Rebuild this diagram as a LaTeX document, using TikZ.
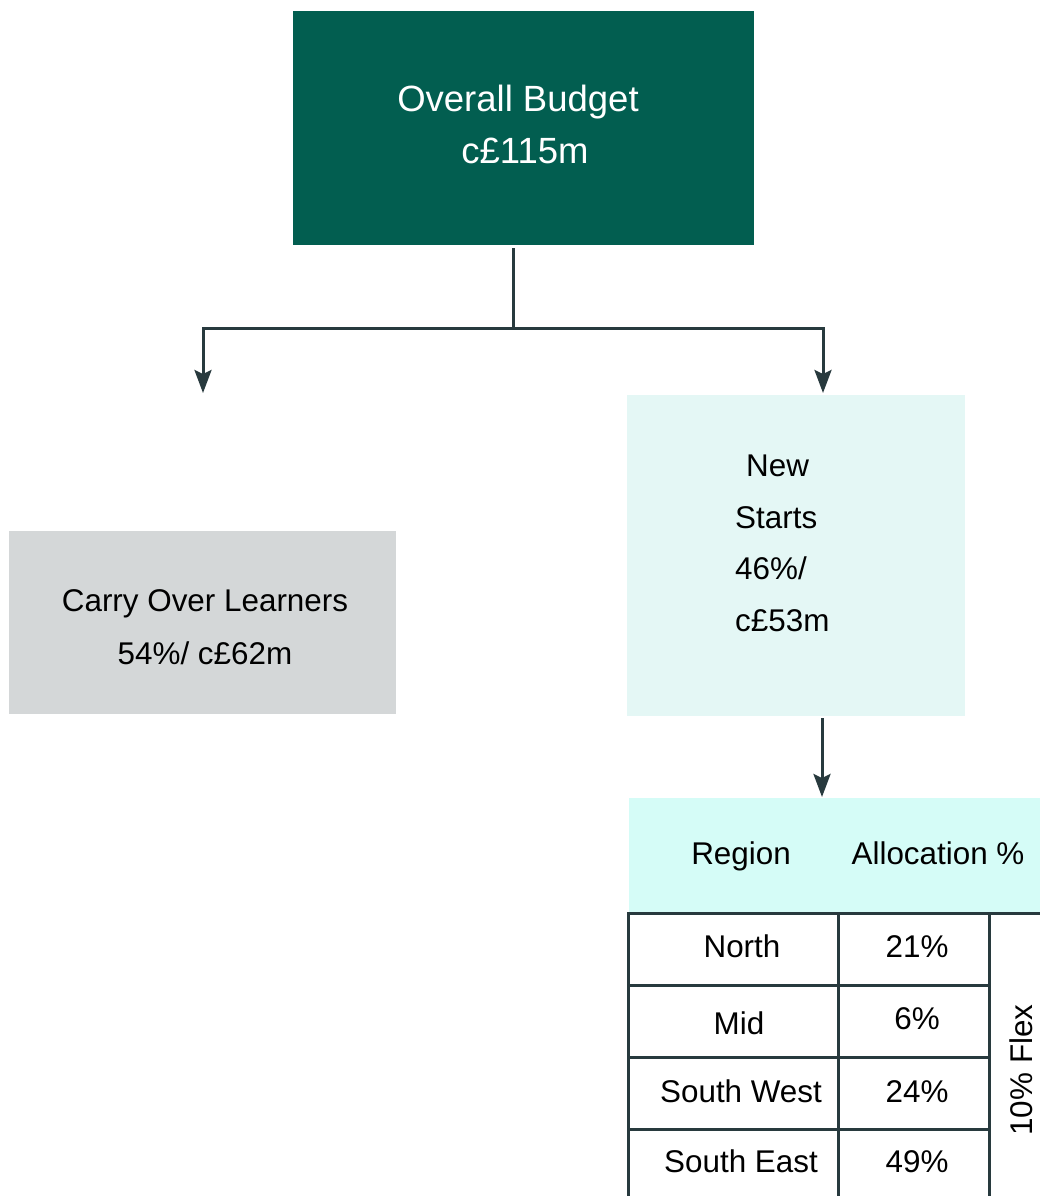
\documentclass[tikz,border=0pt]{standalone}
\usepackage{fontspec}
\setmainfont{Liberation Sans}
\usetikzlibrary{arrows.meta}
\definecolor{budgetgreen}{RGB}{2,94,80}
\definecolor{newfill}{RGB}{228,247,245}
\definecolor{carryfill}{RGB}{212,215,216}
\definecolor{headfill}{RGB}{213,252,247}
\definecolor{linecol}{RGB}{40,58,62}
\tikzset{
  box/.style={rectangle, inner sep=0pt, draw=none},
  txt/.style={inner sep=0pt, font=\fontsize{31.4}{36}\selectfont, text=black},
  bigtxt/.style={inner sep=0pt, font=\fontsize{36.5}{42}\selectfont, text=white},
  conn/.style={draw=linecol, line width=3pt},
  arr/.style={conn, -{Stealth[length=23pt,width=17pt,inset=4pt]}},
  grid/.style={draw=linecol, line width=3pt, line cap=rect},
}
\begin{document}
\begin{tikzpicture}[x=1pt,y=-1pt]
\useasboundingbox (0,0) rectangle (1040,1196);
% boxes
\node[box, fill=budgetgreen, minimum width=461pt, minimum height=234pt] (budget) at (523.5,128) {};
\node[bigtxt, anchor=base] (b1) at (518,112) {Overall Budget};
\node[bigtxt, anchor=base] (b2) at (525,163) {c£115m};

\node[box, fill=carryfill, minimum width=387pt, minimum height=183pt] (carry) at (202.5,622.5) {};
\node[txt, anchor=base] (c1) at (205,611) {Carry Over Learners};
\node[txt, anchor=base] (c2) at (205,664) {54\%/ c£62m};

\node[box, fill=newfill, minimum width=338pt, minimum height=321pt] (new) at (796,555.5) {};
\node[txt, anchor=base west] (n1) at (746,476) {New};
\node[txt, anchor=base west] (n2) at (735,528) {Starts};
\node[txt, anchor=base west] (n3) at (735,579) {46\%/};
\node[txt, anchor=base west] (n4) at (735,631) {c£53m};

% connectors
\coordinate (j) at (513,328);
\coordinate (lefttip) at (203,393);
\coordinate (righttip) at (823,393);
\coordinate (tabtip) at (822,797);
\draw[conn, shorten <=3pt] (budget.south -| j) -- (j);
\draw[arr] (j) -| (lefttip);
\draw[arr] (j) -| (righttip);
\draw[arr, shorten <=2pt] (new.south -| tabtip) -- (tabtip);

% table header
\node[box, fill=headfill, minimum width=411pt, minimum height=114pt] (head) at (834.5,855) {};
\node[txt, anchor=base] (h1) at (741,864) {Region};
\node[txt, anchor=base] (h2) at (938,864) {Allocation \%};

% table grid
\draw[grid] (628,913) -- (1040,913);
\draw[grid] (628,913) -- (628,1200);
\draw[grid] (838.5,913) -- (838.5,1200);
\draw[grid] (989,913) -- (989,1200);
\draw[grid] (628,985.5) -- (989,985.5);
\draw[grid] (628,1057.5) -- (989,1057.5);
\draw[grid] (628,1129.5) -- (989,1129.5);

% table text
\node[txt, anchor=base] (r1) at (742,957) {North};
\node[txt, anchor=base] (v1) at (917,957) {21\%};
\node[txt, anchor=base] (r2) at (739,1034) {Mid};
\node[txt, anchor=base] (v2) at (917,1029) {6\%};
\node[txt, anchor=base] (r3) at (741,1102) {South West};
\node[txt, anchor=base] (v3) at (917,1102) {24\%};
\node[txt, anchor=base] (r4) at (741,1172) {South East};
\node[txt, anchor=base] (v4) at (917,1172) {49\%};
\node[txt, anchor=base, rotate=90] (flex) at (1032,1070) {10\% Flex};
\end{tikzpicture}
\end{document}
